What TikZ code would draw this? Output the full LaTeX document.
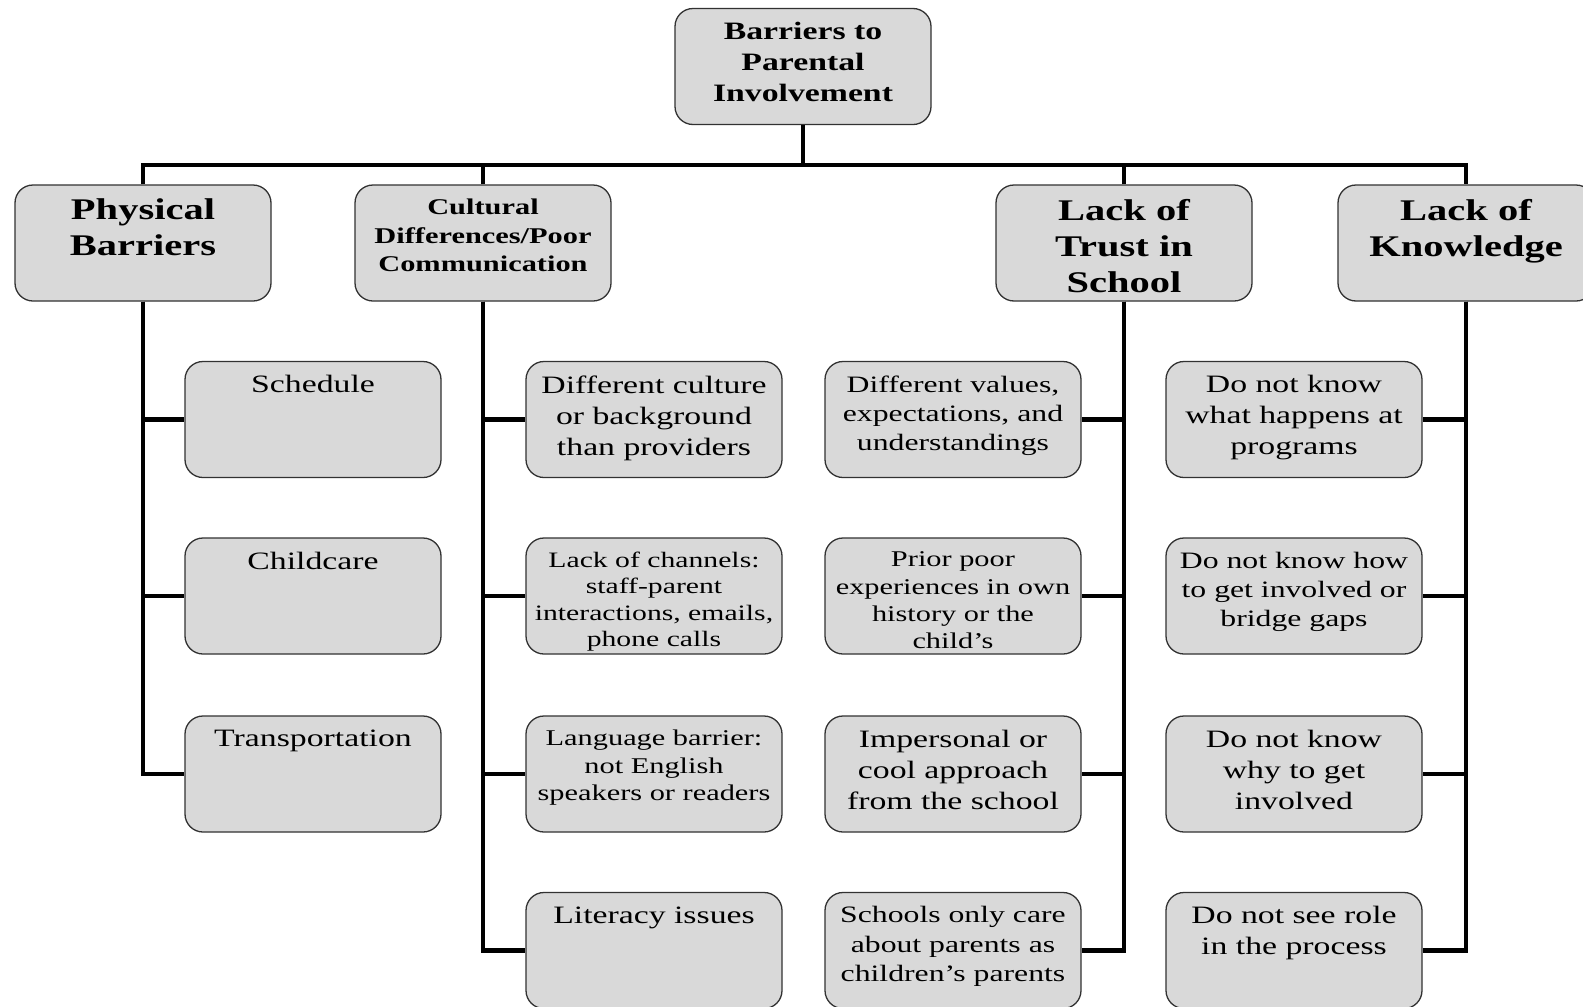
\documentclass[tikz,border=0pt]{standalone}
\usepackage{fontspec}
\setmainfont[FakeStretch=1.35]{Liberation Serif}
\definecolor{boxgray}{RGB}{217,217,217}
\definecolor{edgegray}{RGB}{50,50,50}
\newcommand\bt[3]{\parbox[c][88pt][t]{250pt}{\centering\fontsize{#1}{#2}\selectfont #3\par}}
\tikzset{
  bx/.style={draw=edgegray, line width=1.3pt, fill=boxgray, rounded corners=18pt,
             inner sep=0pt, minimum width=256pt, minimum height=116pt},
  wire/.style={line width=4.6pt, black, line join=miter},
}
\begin{document}
\begin{tikzpicture}[x=1pt,y=-1pt]
\useasboundingbox (0,0) rectangle (1583,1007);
\clip (0,0) rectangle (1583,1007);
\fill[white] (0,0) rectangle (1583,1007);

% root
\node[bx] (top) at (803,66.5) {\bt{25}{31}{\bfseries Barriers to\\Parental\\Involvement}};
\coordinate (bar) at (803,165);

% level 1
\node[bx] (phys)  at (143,243)  {\bt{30}{36}{\bfseries Physical\\Barriers}};
\node[bx] (cult)  at (483,243)  {\bt{22.5}{28.5}{\bfseries Cultural\\Differences/Poor\\Communication}};
\node[bx] (trust) at (1124,243) {\bt{30}{36}{\bfseries Lack of\\Trust in\\School}};
\node[bx] (know)  at (1466,243) {\bt{30}{36}{\bfseries Lack of\\Knowledge}};

% column A
\node[bx] (a1) at (313,419.5) {\bt{25}{31}{Schedule}};
\node[bx] (a2) at (313,596)   {\bt{25}{31}{Childcare}};
\node[bx] (a3) at (313,774)   {\bt{25}{31}{Transportation}};

% column B
\node[bx] (b1) at (654,419.5) {\bt{25}{31}{Different culture\\or background\\than providers}};
\node[bx] (b2) at (654,596)   {\bt{22}{26.5}{Lack of channels:\\staff-parent\\interactions, emails,\\phone calls}};
\node[bx] (b3) at (654,774)   {\bt{22.5}{27.5}{Language barrier:\\not English\\speakers or readers}};
\node[bx] (b4) at (654,950.5) {\bt{25}{31}{Literacy issues}};

% column C
\node[bx] (c1) at (953,419.5) {\bt{23.5}{29}{Different values,\\expectations, and\\understandings}};
\node[bx] (c2) at (953,596)   {\bt{22.5}{27.3}{Prior poor\\experiences in own\\history or the\\child’s}};
\node[bx] (c3) at (953,774)   {\bt{25}{31}{Impersonal or\\cool approach\\from the school}};
\node[bx] (c4) at (953,950.5) {\bt{23.5}{29.5}{Schools only care\\about parents as\\children’s parents}};

% column D
\node[bx] (d1) at (1294,419.5) {\bt{25}{31}{Do not know\\what happens at\\programs}};
\node[bx] (d2) at (1294,596)   {\bt{23.5}{29}{Do not know how\\to get involved or\\bridge gaps}};
\node[bx] (d3) at (1294,774)   {\bt{25}{31}{Do not know\\why to get\\involved}};
\node[bx] (d4) at (1294,950.5) {\bt{25}{31}{Do not see role\\in the process}};

% connectors
\draw[wire] (top.south) -- (bar);
\draw[wire] (phys.north) |- (bar) -| (know.north);
\draw[wire] (cult.north) -- (cult.north |- bar);
\draw[wire] (trust.north) -- (trust.north |- bar);

\draw[wire] (phys.south) |- (a1.west);
\draw[wire] (phys.south) |- (a2.west);
\draw[wire] (phys.south) |- (a3.west);

\draw[wire] (cult.south) |- (b1.west);
\draw[wire] (cult.south) |- (b2.west);
\draw[wire] (cult.south) |- (b3.west);
\draw[wire] (cult.south) |- (b4.west);

\draw[wire] (trust.south) |- (c1.east);
\draw[wire] (trust.south) |- (c2.east);
\draw[wire] (trust.south) |- (c3.east);
\draw[wire] (trust.south) |- (c4.east);

\draw[wire] (know.south) |- (d1.east);
\draw[wire] (know.south) |- (d2.east);
\draw[wire] (know.south) |- (d3.east);
\draw[wire] (know.south) |- (d4.east);
\end{tikzpicture}
\end{document}
